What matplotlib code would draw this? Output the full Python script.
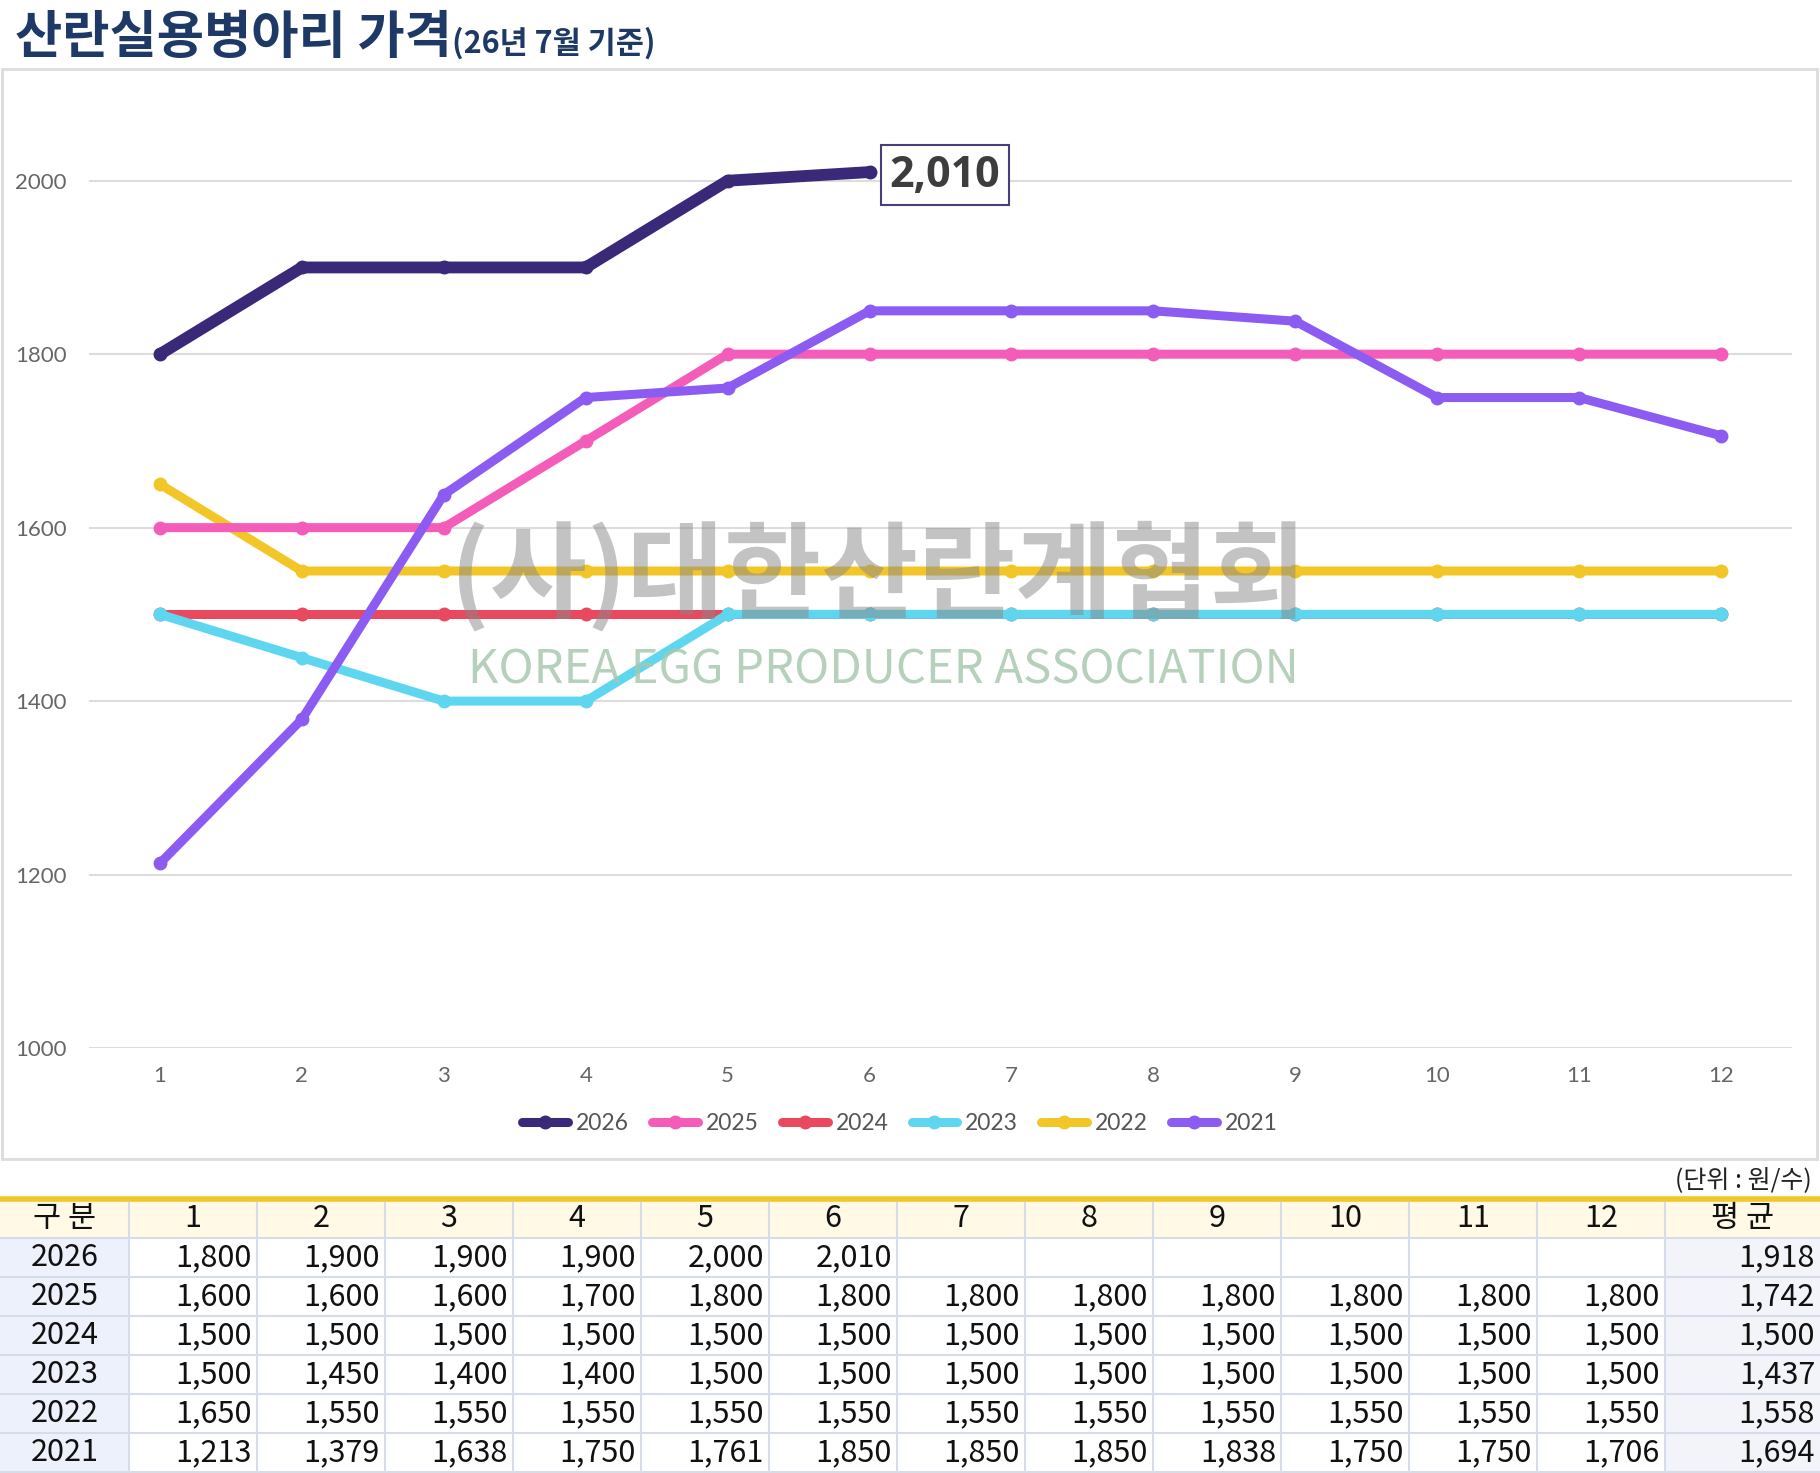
import matplotlib
matplotlib.use("Agg")
import matplotlib.pyplot as plt
from matplotlib.lines import Line2D
from matplotlib.patches import Rectangle

plt.rcParams['font.family'] = ['Noto Sans CJK KR', 'DejaVu Sans']

# ---------------- data ----------------
months = [1, 2, 3, 4, 5, 6, 7, 8, 9, 10, 11, 12]
years = ['2026', '2025', '2024', '2023', '2022', '2021']
v2026 = [1800, 1900, 1900, 1900, 2000, 2010]
v2025 = [1600, 1600, 1600, 1700, 1800, 1800, 1800, 1800, 1800, 1800, 1800, 1800]
v2024 = [1500, 1500, 1500, 1500, 1500, 1500, 1500, 1500, 1500, 1500, 1500, 1500]
v2023 = [1500, 1450, 1400, 1400, 1500, 1500, 1500, 1500, 1500, 1500, 1500, 1500]
v2022 = [1650, 1550, 1550, 1550, 1550, 1550, 1550, 1550, 1550, 1550, 1550, 1550]
v2021 = [1213, 1379, 1638, 1750, 1761, 1850, 1850, 1850, 1838, 1750, 1750, 1706]
averages = [1918, 1742, 1500, 1437, 1558, 1694]
yticks = [1000, 1200, 1400, 1600, 1800, 2000]

title = '산란실용병아리 가격'
subtitle = '(26년 7월 기준)'
unit_label = '(단위 : 원/수)'
header_first = '구 분'
header_last = '평 균'
wm_kr = '(사)대한산란계협회'
wm_en = 'KOREA EGG PRODUCER ASSOCIATION'

series = [v2026, v2025, v2024, v2023, v2022, v2021]
colors = ['#3A2878', '#F35DB9', '#E9495E', '#5ED6F0', '#F2C627', '#8C5CF2']
zorders = [9, 6, 3, 4, 5, 7]
widths = [8.5, 6.5, 6.5, 6.5, 6.5, 6.5]

W, H = 1820, 1473
fig = plt.figure(figsize=(W / 100, H / 100), dpi=100)
fig.patch.set_facecolor('white')

# background / overlay axes in pixel coordinates
bg = fig.add_axes([0, 0, 1, 1], zorder=0)
bg.set_xlim(0, W)
bg.set_ylim(H, 0)
bg.axis('off')

# chart frame
bg.add_patch(Rectangle((2, 69), 1815, 1090, fill=False, ec='#DCDCDC', lw=2))

# title
t = bg.text(15, 38, title, fontsize=37, fontweight='black', color='#1E3966',
            ha='left', va='center')
bg.annotate(subtitle, xy=(1.0, 0.1), xycoords=t, fontsize=22, fontweight='black',
            color='#1E3966', ha='left', va='bottom')

# ---------------- main chart ----------------
ax_l, ax_r, ax_t, ax_b = 89, 1792, 94, 1048
ax = fig.add_axes([ax_l / W, 1 - ax_b / H, (ax_r - ax_l) / W, (ax_b - ax_t) / H], zorder=1)
ax.set_facecolor('none')
for i, (yr, vals) in enumerate(zip(years, series)):
    ax.plot(months[:len(vals)], vals, color=colors[i], lw=widths[i], marker='o', ms=9,
            solid_capstyle='round', solid_joinstyle='round', zorder=zorders[i], label=yr)

ax.set_xlim(0.5, 12.5)
ax.set_ylim(1000, 2100)
ax.set_xticks(months)
ax.set_yticks(yticks)
ax.set_xticklabels([str(m) for m in months], family='Lato', fontsize=16, color='#666666')
ax.set_yticklabels([str(v) for v in yticks], family='Lato', fontsize=16, color='#666666')
ax.tick_params(axis='both', length=0)
ax.tick_params(axis='y', pad=16)
ax.tick_params(axis='x', pad=13)
ax.grid(axis='y', color='#DDDDDD', lw=1.5, zorder=0)
ax.set_axisbelow(True)
for s in ax.spines.values():
    s.set_visible(False)

# annotation of last 2026 value
ax.annotate('2,010', xy=(months[len(v2026) - 1], v2026[-1]), xytext=(20, -3),
            textcoords='offset pixels', ha='left', va='center',
            family='Open Sans', fontweight='bold', fontsize=31, color='#3D3D3D',
            bbox=dict(boxstyle='square,pad=0.2', fc='white', ec='#4A3D7C', lw=1.5),
            zorder=20)

# watermark
ax.text(878, 577, wm_kr, transform=bg.transData, fontsize=76, fontweight='bold',
        color='#888888', alpha=0.5, ha='center', va='center', zorder=15, clip_on=False)
ax.text(883, 670, wm_en, transform=bg.transData, fontsize=34, fontweight='light',
        color='#A8C8B0', alpha=0.85, ha='center', va='center', zorder=15, clip_on=False)

# legend
handles = [Line2D([0], [0], color=c, lw=6.5, marker='o', ms=9, solid_capstyle='round')
           for c in colors]
leg = fig.legend(handles, years, loc='center', bbox_to_anchor=(900 / W, 1 - 1124 / H),
                 ncol=6, frameon=False, handlelength=2.0, handletextpad=0.35,
                 columnspacing=1.0, numpoints=1,
                 prop={'family': 'Lato', 'size': 16.5})
for txt in leg.get_texts():
    txt.set_color('#555555')

# ---------------- table ----------------
bg.text(1812, 1180, unit_label, fontsize=18, color='#222222', ha='right', va='center')

tbl_top = 1199
row_h = 39
col0_w = 129
col_w = 128
last_x = col0_w + 12 * col_w
col_edges = [0, col0_w] + [col0_w + col_w * k for k in range(1, 13)] + [W]
grid_col = '#D6DCE8'
tfs = 22

# header backgrounds
bg.add_patch(Rectangle((0, tbl_top), W, row_h, fc='#FFF9E6', ec='none'))
# first column / average column backgrounds
for r in range(len(years)):
    y0 = tbl_top + row_h * (r + 1)
    bg.add_patch(Rectangle((0, y0), col0_w, row_h, fc='#EDF1FB', ec='none'))
    bg.add_patch(Rectangle((last_x, y0), W - last_x, row_h, fc='#F3F4FA', ec='none'))

# grid lines
n_rows = len(years) + 1
for r in range(1, n_rows + 1):
    y = tbl_top + row_h * r
    bg.plot([0, W], [y, y], color=grid_col, lw=1.5)
for x in col_edges[1:-1]:
    bg.plot([x, x], [tbl_top, tbl_top + row_h * n_rows], color=grid_col, lw=1.5)
bg.plot([0, W], [tbl_top, tbl_top], color='#F0C72C', lw=4)

# header texts
hy = tbl_top + row_h / 2
bg.text(col0_w / 2, hy, header_first, fontsize=tfs, ha='center', va='center', color='#111111')
for k, m in enumerate(months):
    cx = col0_w + col_w * k + col_w / 2
    bg.text(cx, hy, str(m), fontsize=tfs, ha='center', va='center', color='#111111')
bg.text((last_x + W) / 2, hy, header_last, fontsize=tfs, ha='center', va='center', color='#111111')

# body texts
for r, (yr, vals) in enumerate(zip(years, series)):
    cy = tbl_top + row_h * (r + 1) + row_h / 2
    bg.text(col0_w / 2, cy, yr, fontsize=tfs, ha='center', va='center', color='#111111')
    for k, v in enumerate(vals):
        rx = col0_w + col_w * (k + 1) - 5
        bg.text(rx, cy, f'{v:,}', fontsize=tfs, ha='right', va='center', color='#111111')
    bg.text(W - 5, cy, f'{averages[r]:,}', fontsize=tfs, ha='right', va='center', color='#111111')

fig.savefig('out.png', dpi=100, facecolor='white')
